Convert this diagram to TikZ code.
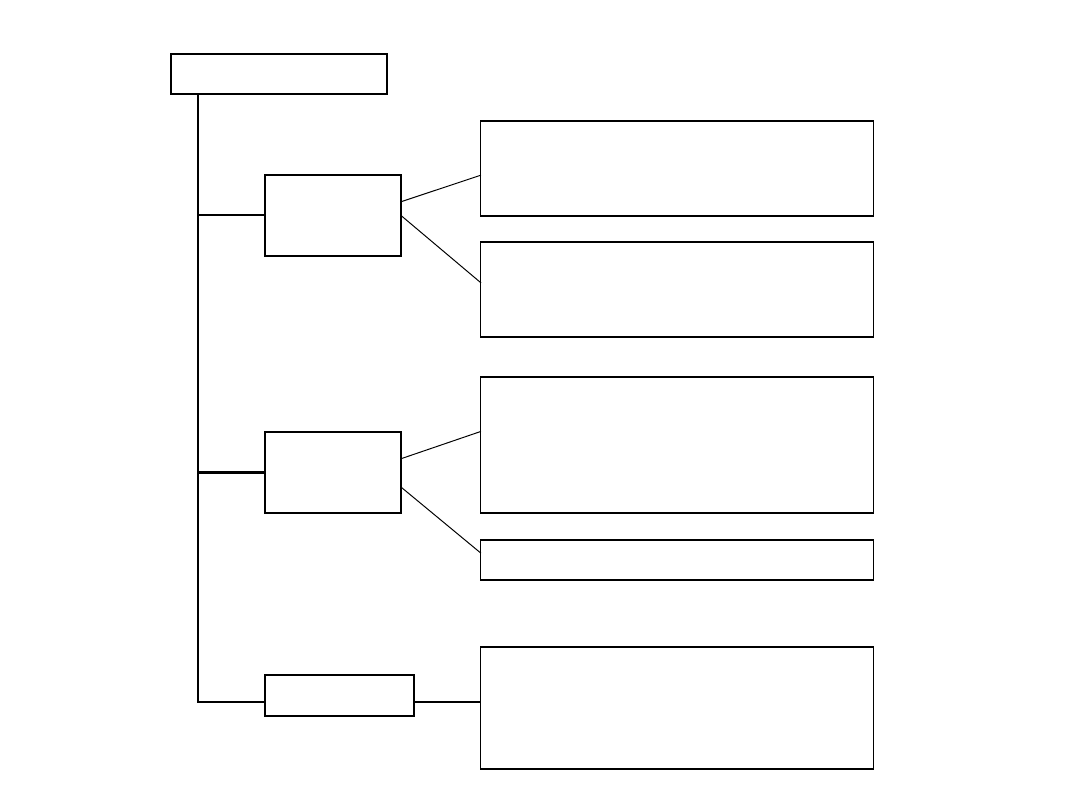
\documentclass[tikz,border=0pt]{standalone}
\usepackage{tikz}
\usetikzlibrary{positioning, calc}

\tikzset{
  headbox/.style={draw, line width=1.8pt, inner sep=0pt, outer sep=0pt},
  itembox/.style={draw, line width=0.75pt, inner sep=0pt, outer sep=0pt, minimum width=9.8cm},
  link/.style={line width=0.7pt}
}

\begin{document}
\begin{tikzpicture}[x=0.025cm, y=-0.025cm]
  \useasboundingbox (0,0) rectangle (1080,810);
  % left column
  \node[headbox, line width=1.5pt, minimum width=5.4cm, minimum height=1cm] (top) at (279,74) {};
  \node[headbox, minimum width=3.4cm, minimum height=2.025cm] (ga) at (333,215.5) {};
  \node[headbox, minimum width=3.4cm, minimum height=2.025cm] (gb) at (333,472.5) {};
  \node[headbox, minimum width=3.725cm, minimum height=1.025cm] (gc) at (339.5,695.5) {};
  % right column
  \node[itembox, minimum height=2.375cm] (r1) at (677,168.5) {};
  \node[itembox, minimum height=2.375cm] (r2) at (677,289.5) {};
  \node[itembox, minimum height=3.4cm] (r3) at (677,445) {};
  \node[itembox, minimum height=1cm] (r4) at (677,560) {};
  \node[itembox, minimum height=3.05cm] (r5) at (677,708) {};

  % spine and branches
  \coordinate (s0) at ($(top.south west)!0.125!(top.south east)$);
  \coordinate (cw) at ($(gc.north west)!0.66!(gc.south west)$);
  \coordinate (aw) at ($(ga.north west)!0.49!(ga.south west)$);
  \draw[line width=1.2pt] (s0) -- (s0 |- cw) -- (cw);
  \draw[line width=1.2pt] (s0 |- aw) -- (aw);
  \draw[line width=1.6pt] (s0 |- gb.west) -- (gb.west);

  % links to the items
  \draw[link] ($(ga.north east)!0.33!(ga.south east)$) -- ($(r1.north west)!0.57!(r1.south west)$);
  \draw[link] ($(ga.north east)!0.5!(ga.south east)$) -- ($(r2.north west)!0.43!(r2.south west)$);
  \draw[link] ($(gb.north east)!0.33!(gb.south east)$) -- ($(r3.north west)!0.40!(r3.south west)$);
  \draw[link] ($(gb.north east)!0.68!(gb.south east)$) -- ($(r4.north west)!0.33!(r4.south west)$);
  \draw[line width=1pt] (cw -| gc.east) -- (cw -| r5.west);
\end{tikzpicture}
\end{document}
